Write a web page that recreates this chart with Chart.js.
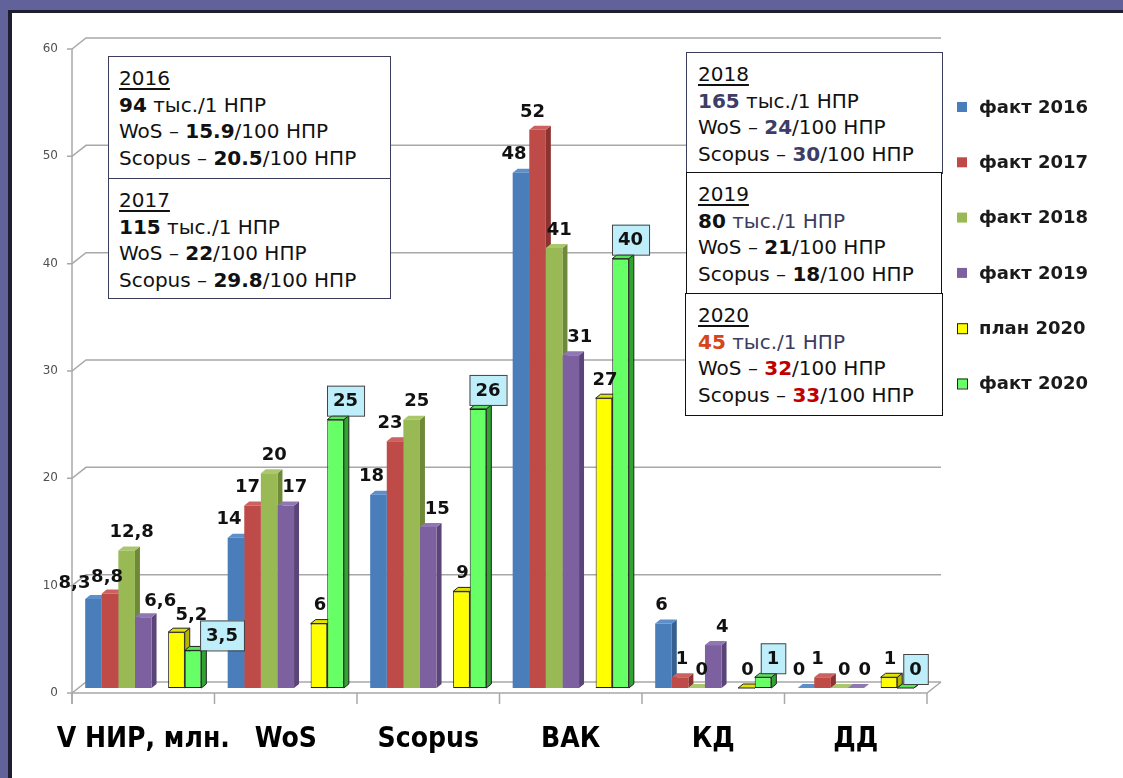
<!DOCTYPE html>
<html>
<head>
<meta charset="utf-8">
<script src="https://cdn.jsdelivr.net/npm/chart.js@4.4.1/dist/chart.umd.min.js"></script>
<style>
html, body { margin: 0; padding: 0; overflow: hidden; background: #fff; }
body { width: 1123px; height: 778px; position: relative; font-family: "DejaVu Sans", sans-serif; }
.edge { position: absolute; background: #62629a; }
#edgeTop { left: 0; top: 0; width: 1123px; height: 10px; }
#edgeLeft { left: 0; top: 0; width: 8px; height: 778px; }
.rim { position: absolute; background: #1e1e30; }
#rimTop { left: 8px; top: 10px; width: 1115px; height: 3px; }
#rimLeft { left: 8px; top: 10px; width: 4px; height: 768px; }
#chart { position: absolute; left: 0; top: 0; }
.box { position: absolute; box-sizing: border-box; background: #fff; border: 1px solid #3c3c5c; padding: 8px 0 0 10px; font-size: 20px; line-height: 26.5px; color: #111; white-space: nowrap; }
.box.dark { border-color: #111; }
.box u { text-decoration: underline; text-underline-offset: 3px; }
.navy { color: #3d3d66; }
.slate { color: #3c3c5e; }
.orange { color: #d4461a; }
.red { color: #c00000; }
</style>
</head>
<body>
<div class="edge" id="edgeTop"></div>
<div class="edge" id="edgeLeft"></div>
<div class="rim" id="rimTop"></div>
<div class="rim" id="rimLeft"></div>
<canvas id="chart" width="1123" height="778"></canvas>

<div class="box" style="left:108px;top:56px;width:283px;height:123px;">
<u>2016</u><br><b>94</b> тыс./1 НПР<br>WoS – <b>15.9</b>/100 НПР<br>Scopus – <b>20.5</b>/100 НПР
</div>
<div class="box" style="left:108px;top:178px;width:283px;height:121px;">
<u>2017</u><br><b>115</b> тыс./1 НПР<br>WoS – <b>22</b>/100 НПР<br>Scopus – <b>29.8</b>/100 НПР
</div>
<div class="box" style="left:686px;top:52px;width:257px;height:122px;padding-left:11px;">
<u>2018</u><br><b class="navy">165</b> тыс./1 НПР<br>WoS – <b class="navy">24</b>/100 НПР<br>Scopus – <b class="navy">30</b>/100 НПР
</div>
<div class="box dark" style="left:686px;top:172px;width:256px;height:122px;padding-left:11px;">
<u>2019</u><br><b>80</b> <span class="slate">тыс./1 НПР</span><br>WoS – <b>21</b>/100 НПР<br>Scopus – <b>18</b>/100 НПР
</div>
<div class="box dark" style="left:685px;top:293px;width:258px;height:123px;padding-left:12px;">
<u>2020</u><br><b class="orange">45</b> <span class="slate">тыс./1 НПР</span><br>WoS – <b class="red">32</b>/100 НПР<br>Scopus – <b class="red">33</b>/100 НПР
</div>

<script>
// ==========================
// DATA
// ==========================

const categories = ["V НИР, млн.", "WoS", "Scopus", "ВАК", "КД", "ДД"];
const seriesNames = ["факт 2016", "факт 2017", "факт 2018", "факт 2019", "план 2020", "факт 2020"];

const fact2016 = [8.3, 14, 18, 48, 6, 0];
const fact2017 = [8.8, 17, 23, 52, 1, 1];
const fact2018 = [12.8, 20, 25, 41, 0, 0];
const fact2019 = [6.6, 17, 15, 31, 4, 0];
const plan2020 = [5.2, 6, 9, 27, 0, 1];
const fact2020 = [3.5, 25, 26, 40, 1, 0];

const yTicks = [0, 10, 20, 30, 40, 50, 60];

// ==========================
// STYLE
// ==========================

const frontColors = ["#4a7ebb", "#be4b48", "#98b954", "#7d60a0", "#ffff00", "#66ff66"];
const sideColors  = ["#35608f", "#8c3331", "#6e8a38", "#5a4478", "#b5b500", "#2fa52f"];
const topColors   = ["#5d8fcd", "#cb625f", "#abc76c", "#9077b3", "#e3e300", "#55e655"];
const outlined    = [false, false, false, false, true, true];
const labelShift  = [-7, -5, 5, 9, 1, 10];

// per point label nudges [series, category, dx, dy]
const labelNudges = [
    [0, 0, -12, 2], [1, 0, 2, 2], [3, 0, 8, 2], [4, 0, 14, 1], [5, 0, 19, 4],
    [0, 4, 5, 0], [1, 4, 7, 0]
];

const depth = { dx: 5, dy: 4 };
const wall = { dx: 14, front: 5, back: -6 };

const fmt = v => String(v).replace(".", ",");

// spacer slot between "факт 2019" and "план 2020"
const gap = categories.map(() => null);

const seriesData = [fact2016, fact2017, fact2018, fact2019, plan2020, fact2020];

let datasets = [];

seriesData.forEach((values, i) => {

    if(i === 4){
        datasets.push({ label: "", data: gap, backgroundColor: "transparent" });
    }

    datasets.push({
        label: seriesNames[i],
        data: values,
        seriesIndex: i,
        backgroundColor: frontColors[i],
        borderColor: outlined[i] ? "#222" : frontColors[i],
        borderWidth: outlined[i] ? 1 : 0,
        borderSkipped: false
    });

});

// ==========================
// 3D WALLS AND GRID
// ==========================

const walls = {
    id: "walls",
    beforeDatasetsDraw(chart){
        const ctx = chart.ctx;
        const y = chart.scales.y;
        const a = chart.chartArea;
        ctx.save();
        ctx.strokeStyle = "#a8a8a8";
        ctx.lineWidth = 1.5;

        yTicks.forEach(t => {
            const py = y.getPixelForValue(t);
            ctx.beginPath();
            ctx.moveTo(a.left - 5, py + wall.front);
            ctx.lineTo(a.left, py + wall.front);
            ctx.lineTo(a.left + wall.dx, py + wall.back);
            ctx.lineTo(a.right + wall.dx, py + wall.back);
            ctx.stroke();
        });

        // front axis line
        const f0 = y.getPixelForValue(0) + wall.front;
        ctx.beginPath();
        ctx.moveTo(a.left, y.getPixelForValue(60) + wall.front);
        ctx.lineTo(a.left, f0 + 11);
        ctx.stroke();

        // floor
        ctx.beginPath();
        ctx.moveTo(a.left, f0);
        ctx.lineTo(a.right, f0);
        ctx.lineTo(a.right + wall.dx, f0 + wall.back - wall.front);
        ctx.stroke();

        // category ticks
        for(let i = 0; i <= categories.length; i++){
            const px = a.left + (a.right - a.left) * i / categories.length;
            ctx.beginPath();
            ctx.moveTo(px, f0);
            ctx.lineTo(px, f0 + 11);
            ctx.stroke();
        }
        ctx.restore();
    }
};

// ==========================
// 3D BAR FACES
// ==========================

function collectBars(chart){
    let bars = [];
    chart.data.datasets.forEach((ds, i) => {
        if(!ds.label) return;
        chart.getDatasetMeta(i).data.forEach((el, j) => {
            if(ds.data[j] === null || isNaN(el.y)) return;
            bars.push({ el, ds, j });
        });
    });
    return bars;
}

const bars3d = {
    id: "bars3d",
    beforeDatasetsDraw(chart){
        const ctx = chart.ctx;
        const bars = collectBars(chart);
        const dx = depth.dx, dy = depth.dy;
        ctx.save();
        ctx.lineWidth = 1;

        bars.forEach(({ el, ds }) => {
            const r = el.x + el.width / 2;
            ctx.beginPath();
            ctx.moveTo(r, el.y);
            ctx.lineTo(r + dx, el.y - dy);
            ctx.lineTo(r + dx, el.base - dy);
            ctx.lineTo(r, el.base);
            ctx.closePath();
            ctx.fillStyle = sideColors[ds.seriesIndex];
            ctx.fill();
            if(outlined[ds.seriesIndex]){ ctx.strokeStyle = "#222"; ctx.stroke(); }
        });

        bars.forEach(({ el, ds }) => {
            const l = el.x - el.width / 2;
            const r = el.x + el.width / 2;
            ctx.beginPath();
            ctx.moveTo(l, el.y);
            ctx.lineTo(l + dx, el.y - dy);
            ctx.lineTo(r + dx, el.y - dy);
            ctx.lineTo(r, el.y);
            ctx.closePath();
            ctx.fillStyle = topColors[ds.seriesIndex];
            ctx.fill();
            if(outlined[ds.seriesIndex]){ ctx.strokeStyle = "#222"; ctx.stroke(); }
        });

        ctx.restore();
    },

    afterDatasetsDraw(chart){
        const ctx = chart.ctx;
        const bars = collectBars(chart);
        ctx.save();
        ctx.font = "bold 18px 'DejaVu Sans'";
        ctx.textAlign = "center";
        ctx.textBaseline = "middle";

        bars.forEach(({ el, ds, j }) => {
            const s = ds.seriesIndex;
            let lx = el.x + labelShift[s];
            let ly = el.y - 19;
            labelNudges.forEach(n => {
                if(n[0] === s && n[1] === j){ lx += n[2]; ly += n[3]; }
            });
            const text = fmt(ds.data[j]);
            if(s === 5){
                const w = ctx.measureText(text).width + 12;
                ctx.fillStyle = "#bdeefa";
                ctx.fillRect(lx - w / 2, ly - 15, w, 30);
                ctx.strokeStyle = "#444";
                ctx.lineWidth = 1;
                ctx.strokeRect(lx - w / 2 + 0.5, ly - 14.5, w, 30);
            }
            ctx.fillStyle = "#111";
            ctx.fillText(text, lx, ly + 1);
        });
        ctx.restore();
    }
};

// ==========================
// LEGEND
// ==========================

const sideLegend = {
    id: "sideLegend",
    afterDraw(chart){
        const ctx = chart.ctx;
        ctx.save();
        ctx.font = "bold 18px 'DejaVu Sans'";
        ctx.textBaseline = "middle";
        seriesNames.forEach((name, i) => {
            const cy = 107 + i * 55.3;
            ctx.fillStyle = frontColors[i];
            ctx.fillRect(957, cy - 5, 10, 10);
            if(outlined[i]){
                ctx.strokeStyle = "#222";
                ctx.lineWidth = 1;
                ctx.strokeRect(957.5, cy - 4.5, 10, 10);
            }
            ctx.fillStyle = "#1a1a1a";
            ctx.fillText(name, 979, cy + 1);
        });
        ctx.restore();
    }
};

// ==========================
// CHART
// ==========================

new Chart(document.getElementById("chart"), {

    type: "bar",

    data: {
        labels: categories,
        datasets: datasets
    },

    options: {
        responsive: false,
        animation: false,
        layout: { padding: { top: 44, right: 196, left: 0, bottom: 0 } },
        datasets: { bar: { categoryPercentage: 0.815, barPercentage: 1 } },
        plugins: {
            legend: { display: false },
            tooltip: { enabled: false }
        },
        scales: {
            x: {
                grid: { display: false, drawTicks: false },
                border: { display: false },
                ticks: {
                    color: "#000",
                    padding: 35,
                    maxRotation: 0,
                    minRotation: 0,
                    autoSkip: false,
                    font: { family: "'Liberation Sans Narrow', 'DejaVu Sans Condensed', sans-serif", weight: "bold", size: 28 }
                },
                afterFit(scale){ scale.height = 90; }
            },
            y: {
                min: 0,
                max: 60,
                grid: { display: false, drawTicks: false },
                border: { display: false },
                ticks: {
                    stepSize: 10,
                    padding: 14,
                    labelOffset: 5,
                    color: "#505050",
                    font: { family: "'DejaVu Sans'", size: 12 }
                },
                afterFit(scale){ scale.width = 72; }
            }
        }
    },

    plugins: [walls, bars3d, sideLegend]

});
</script>
</body>
</html>
